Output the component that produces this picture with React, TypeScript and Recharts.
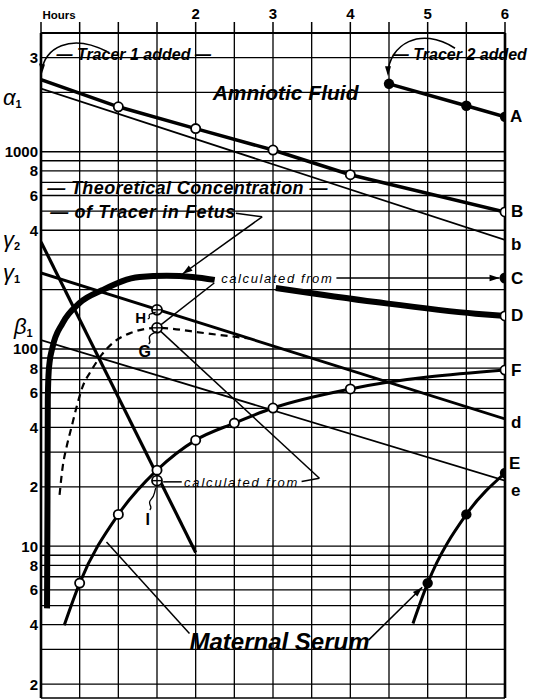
import React from "react";
import {
  ComposedChart,
  Line,
  Scatter,
  XAxis,
  YAxis,
  CartesianGrid,
  ReferenceLine,
  ReferenceDot,
} from "recharts";

// axes
const hourTicks = [0, 0.5, 1, 1.5, 2, 2.5, 3, 3.5, 4, 4.5, 5, 5.5, 6];
const hourLabels: Record<number, string> = { 2: "2", 3: "3", 4: "4", 5: "5", 6: "6" };
const concTicks = [
  2, 3, 4, 5, 6, 7, 8, 9, 10, 20, 30, 40, 50, 60, 70, 80, 90, 100, 200, 300, 400,
  500, 600, 700, 800, 900, 1000, 2000, 3000, 4000,
];
const concLabels: Record<number, string> = {
  3000: "3", 1000: "1000", 800: "8", 600: "6", 400: "4", 100: "100", 80: "8",
  60: "6", 40: "4", 20: "2", 10: "10", 8: "8", 6: "6", 4: "4", 2: "2",
};

// amniotic fluid, tracer 1 (B) and fitted line b
const amnioticBHours = [0, 1, 2, 3, 4, 6];
const amnioticB = [2320, 1690, 1310, 1020, 765, 495];
const lineBHours = [0, 6];
const lineB = [2090, 357];
// amniotic fluid, tracer 2 (A)
const amnioticAHours = [4.5, 5.5, 6];
const amnioticA = [2210, 1710, 1505];

// theoretical concentration of tracer in fetus (broken for the label)
const fetusEarlyHours = [0.078, 0.084, 0.088, 0.097, 0.11, 0.149, 0.278, 0.498, 0.796, 1.275, 1.625, 1.961, 2.246];
const fetusEarly = [4.84, 17.1, 55, 73.8, 84.9, 102, 135, 171, 199, 232, 235, 232, 224];
const fetusLateHours = [3.036, 4.33, 5.62, 6];
const fetusLate = [204, 173, 151, 147];

// straight components
const gamma1Hours = [0, 6];
const gamma1 = [243, 44.2];
const gamma2Hours = [0, 2];
const gamma2 = [349, 9.3];
const betaHours = [0, 6];
const beta = [111, 21.5];

// maternal serum
const serumFHours = [0.3, 0.5, 1, 1.5, 2, 2.5, 3, 4, 6];
const serumF = [3.97, 6.5, 14.5, 24.3, 34.5, 42.1, 50.2, 62.7, 78.2];
const serumEHours = [4.81, 5, 5.5, 6];
const serumE = [4.06, 6.5, 14.5, 23.5];

// dashed curve through G
const dashedHours = [0.24, 0.28, 0.33, 0.395, 0.46, 0.537, 0.654, 0.783, 0.926, 1.146, 1.5, 2.14, 2.53, 2.7];
const dashed = [18.2, 25.2, 31.8, 40.2, 50.8, 64.2, 78.2, 93.3, 107, 120, 128, 120, 115, 113];

// single points
const pointC = [{ t: 6, v: 229 }];
const pointsHGI = [
  { t: 1.5, v: 158 },
  { t: 1.5, v: 128 },
  { t: 1.5, v: 21.5 },
];

type P = { t: number; v: number };
const zip = (ts: number[], vs: number[]): P[] => ts.map((t, i) => ({ t, v: vs[i] }));

const FONT = "'Liberation Sans', Arial, sans-serif";
const INK = "#000";

function openDot(from: number) {
  return (p: any) => {
    if (p.index < from || p.cy == null) return <g key={`o${p.index}`} />;
    return (
      <circle key={`o${p.index}`} cx={p.cx} cy={p.cy} r={4.6} fill="#fff" stroke={INK} strokeWidth={1.8} />
    );
  };
}

function solidDot(from: number) {
  return (p: any) => {
    if (p.index < from || p.cy == null) return <g key={`s${p.index}`} />;
    return <circle key={`s${p.index}`} cx={p.cx} cy={p.cy} r={5.2} fill={INK} />;
  };
}

const crossDot = (p: any) => (
  <g>
    <circle cx={p.cx} cy={p.cy} r={5} fill="#fff" stroke={INK} strokeWidth={1.8} />
    <line x1={p.cx - 5} x2={p.cx + 5} y1={p.cy} y2={p.cy} stroke={INK} strokeWidth={1.4} />
    <line x1={p.cx} x2={p.cx} y1={p.cy - 5} y2={p.cy + 5} stroke={INK} strokeWidth={1.4} />
  </g>
);

const bigDot = (p: any) => <circle cx={p.cx} cy={p.cy} r={5.5} fill={INK} />;

function leaderShape(arrow: boolean) {
  return (p: any) => {
    const { x1, y1, x2, y2 } = p;
    let head = null;
    if (arrow) {
      const a = Math.atan2(y2 - y1, x2 - x1);
      const L = 10;
      const W = 3.2;
      const bx = x2 - L * Math.cos(a);
      const by = y2 - L * Math.sin(a);
      head = (
        <polygon
          points={`${x2},${y2} ${bx - W * Math.sin(a)},${by + W * Math.cos(a)} ${bx + W * Math.sin(a)},${by - W * Math.cos(a)}`}
          fill={INK}
        />
      );
    }
    return (
      <g>
        <line x1={x1} y1={y1} x2={x2} y2={y2} stroke={INK} strokeWidth={1.5} />
        {head}
      </g>
    );
  };
}

type Leader = { from: [number, number]; to: [number, number]; arrow?: boolean };
const leaders: Leader[] = [
  { from: [2.52, 488], to: [2.86, 468] },
  { from: [2.86, 468], to: [1.83, 240], arrow: true },
  { from: [2.24, 216], to: [1.5, 128] },
  { from: [3.82, 229], to: [5.93, 229], arrow: true },
  { from: [1.5, 128], to: [3.6, 22.1] },
  { from: [3.37, 21.3], to: [3.6, 22.1] },
  { from: [1.58, 21.2], to: [1.82, 21.2] },
  { from: [1.92, 3.61], to: [0.847, 10.5] },
  { from: [4.235, 3.34], to: [4.93, 6.2], arrow: true },
];

type Note = {
  t: number;
  v: number;
  text: string;
  size: number;
  dx?: number;
  italic?: boolean;
  bold?: boolean;
  anchor?: "start" | "middle" | "end";
  ls?: number;
  sub?: string;
  path?: string;
};

const notes: Note[] = [
  { t: 0.2, v: 3105, text: "— Tracer 1 added —", size: 16, italic: true, bold: true },
  { t: 4.55, v: 3105, text: "— Tracer 2 added", size: 16, italic: true, bold: true },
  { t: 2.22, v: 1993, text: "Amniotic Fluid", size: 21, italic: true, bold: true },
  { t: 0.08, v: 656, text: "— Theoretical Concentration —", size: 18, italic: true, bold: true, ls: 0.4 },
  { t: 0.12, v: 495, text: "— of Tracer in Fetus", size: 18, italic: true, bold: true, ls: 0.6 },
  { t: 2.33, v: 228, text: "calculated from", size: 13, italic: true, ls: 1.6 },
  { t: 1.85, v: 21.1, text: "calculated from", size: 13, italic: true, ls: 1.8 },
  { t: 1.92, v: 3.3, text: "Maternal Serum", size: 24, italic: true, bold: true },
  { t: 1.29, v: 143.6, text: "H", size: 15, bold: true, anchor: "middle", path: "M 7 1 c 4 -1 -1 -4 3 -5 s 3 -1 5 -2" },
  { t: 1.34, v: 96.6, text: "G", size: 16, bold: true, anchor: "middle", path: "M 4 -8 c 4 -2 -2 -6 2 -9 s 5 -2 6 -4" },
  { t: 1.38, v: 13.6, text: "I", size: 16, bold: true, anchor: "middle", path: "M 2 -10 c 4 -3 -3 -6 1 -10 s 3 -5 5 -12" },
  // curve letters on the right edge
  { t: 6, v: 1505, text: "A", size: 17, bold: true, dx: 5 },
  { t: 6, v: 495, text: "B", size: 17, bold: true, dx: 6 },
  { t: 6, v: 337, text: "b", size: 17, bold: true, dx: 6 },
  { t: 6, v: 229, text: "C", size: 17, bold: true, dx: 6 },
  { t: 6, v: 147, text: "D", size: 17, bold: true, dx: 6 },
  { t: 6, v: 78.2, text: "F", size: 17, bold: true, dx: 6 },
  { t: 6, v: 42.6, text: "d", size: 17, bold: true, dx: 6 },
  { t: 6, v: 26.4, text: "E", size: 17, bold: true, dx: 4 },
  { t: 6, v: 19.2, text: "e", size: 17, bold: true, dx: 6 },
  // intercepts on the left edge
  { t: 0, v: 1879, text: "α", size: 22, italic: true, dx: -38, sub: "1" },
  { t: 0, v: 357, text: "γ", size: 22, italic: true, dx: -38, sub: "2" },
  { t: 0, v: 243, text: "γ", size: 22, italic: true, dx: -38, sub: "1" },
  { t: 0, v: 130, text: "β", size: 22, italic: true, dx: -27, sub: "1" },
];

const noteShape = (n: Note) => (p: any) => {
  const x = p.cx + (n.dx ?? 0);
  const y = p.cy;
  return (
    <g>
      <text
        x={x}
        y={y}
        dominantBaseline="central"
        textAnchor={n.anchor ?? "start"}
        fontFamily={FONT}
        fontSize={n.size}
        fontStyle={n.italic ? "italic" : "normal"}
        fontWeight={n.bold ? "bold" : "normal"}
        letterSpacing={n.ls ?? 0}
        fill={INK}
      >
        {n.text}
        {n.sub ? (
          <tspan fontSize={11} dy={6} fontStyle="normal" fontWeight="bold">
            {n.sub}
          </tspan>
        ) : null}
      </text>
      {n.path ? (
        <path d={n.path} transform={`translate(${x},${y})`} fill="none" stroke={INK} strokeWidth={1.3} />
      ) : null}
    </g>
  );
};

// arcs marking tracer additions, anchored at their arrow tip
const arc1 = (p: any) => (
  <g transform={`translate(${p.cx + 1},${p.cy})`}>
    <path d="M 0 0 C 2 -22 28 -38 65 -19" fill="none" stroke={INK} strokeWidth={1.6} />
    <polygon points="-3,-7 3,-6 0,3" fill={INK} />
  </g>
);
const arc2 = (p: any) => (
  <g transform={`translate(${p.cx - 1},${p.cy})`}>
    <path d="M 0 0 C 1 -28 32 -48 67 -25" fill="none" stroke={INK} strokeWidth={1.6} />
    <polygon points="-3,-7 3,-7 0,3" fill={INK} />
  </g>
);

const HourTick = (p: any) => {
  const v = p.payload?.value;
  if (v === 0.5) {
    return (
      <text x={p.x - 4} y={p.y - 3} textAnchor="end" fontFamily={FONT} fontWeight="bold" fontSize={11.5} fill={INK}>
        Hours
      </text>
    );
  }
  const label = hourLabels[v];
  if (!label) return <g />;
  return (
    <text x={p.x} y={p.y - 3} textAnchor="middle" fontFamily={FONT} fontWeight="bold" fontSize={15} fill={INK}>
      {label}
    </text>
  );
};

const ConcTick = (p: any) => {
  const label = concLabels[p.payload?.value];
  if (!label) return <g />;
  return (
    <text
      x={p.x}
      y={p.y}
      dominantBaseline="central"
      textAnchor="end"
      fontFamily={FONT}
      fontWeight="bold"
      fontSize={15}
      fill={INK}
    >
      {label}
    </text>
  );
};

export default function App() {
  return (
    <div style={{ position: "absolute", left: 0, top: 0, width: 552, height: 700, background: "#fff" }}>
      <ComposedChart width={552} height={700} margin={{ top: 0, right: 47, bottom: 2, left: 0 }}>
        <CartesianGrid stroke={INK} strokeWidth={1.3} />
        <XAxis
          dataKey="t"
          type="number"
          orientation="top"
          domain={[0, 6]}
          ticks={hourTicks}
          interval={0}
          height={33}
          tickSize={11}
          tickMargin={0}
          axisLine={{ stroke: INK, strokeWidth: 2 }}
          tickLine={{ stroke: INK, strokeWidth: 1.5 }}
          tick={HourTick}
          allowDataOverflow
        />
        <YAxis
          type="number"
          scale="log"
          domain={[1.7, 4000]}
          ticks={concTicks}
          interval={0}
          width={41}
          tickSize={0}
          tickMargin={3}
          tickLine={false}
          axisLine={{ stroke: INK, strokeWidth: 2.6 }}
          tick={ConcTick}
          allowDataOverflow
        />
        <ReferenceLine x={6} stroke={INK} strokeWidth={2.6} />

        {leaders.map((l, i) => (
          <ReferenceLine
            key={`l${i}`}
            segment={[
              { x: l.from[0], y: l.from[1] },
              { x: l.to[0], y: l.to[1] },
            ]}
            stroke={INK}
            ifOverflow="visible"
            shape={leaderShape(!!l.arrow)}
          />
        ))}

        <Line data={zip(lineBHours, lineB)} dataKey="v" type="linear" stroke={INK} strokeWidth={1.8} dot={false} isAnimationActive={false} />
        <Line data={zip(betaHours, beta)} dataKey="v" type="linear" stroke={INK} strokeWidth={1.8} dot={false} isAnimationActive={false} />
        <Line data={zip(gamma1Hours, gamma1)} dataKey="v" type="linear" stroke={INK} strokeWidth={2.8} dot={false} isAnimationActive={false} />
        <Line data={zip(gamma2Hours, gamma2)} dataKey="v" type="linear" stroke={INK} strokeWidth={3.2} dot={false} isAnimationActive={false} />
        <Line
          data={zip(dashedHours, dashed)}
          dataKey="v"
          type="monotone"
          stroke={INK}
          strokeWidth={2.2}
          strokeDasharray="7 5"
          dot={false}
          isAnimationActive={false}
        />
        <Line data={zip(fetusEarlyHours, fetusEarly)} dataKey="v" type="monotone" stroke={INK} strokeWidth={6} dot={false} isAnimationActive={false} />
        <Line
          data={zip(fetusLateHours, fetusLate)}
          dataKey="v"
          type="monotone"
          stroke={INK}
          strokeWidth={6}
          dot={openDot(fetusLate.length - 1)}
          isAnimationActive={false}
        />
        <Line
          data={zip(amnioticBHours, amnioticB)}
          dataKey="v"
          type="linear"
          stroke={INK}
          strokeWidth={3.5}
          dot={openDot(1)}
          isAnimationActive={false}
        />
        <Line
          data={zip(amnioticAHours, amnioticA)}
          dataKey="v"
          type="linear"
          stroke={INK}
          strokeWidth={3.5}
          dot={solidDot(0)}
          isAnimationActive={false}
        />
        <Line
          data={zip(serumFHours, serumF)}
          dataKey="v"
          type="monotone"
          stroke={INK}
          strokeWidth={3}
          dot={openDot(1)}
          isAnimationActive={false}
        />
        <Line
          data={zip(serumEHours, serumE)}
          dataKey="v"
          type="monotone"
          stroke={INK}
          strokeWidth={3}
          dot={solidDot(1)}
          isAnimationActive={false}
        />
        <Scatter data={pointC} dataKey="v" shape={bigDot} isAnimationActive={false} />
        <Scatter data={pointsHGI} dataKey="v" shape={crossDot} isAnimationActive={false} />

        <ReferenceDot x={0} y={2580} r={0} ifOverflow="visible" shape={arc1} />
        <ReferenceDot x={4.5} y={2500} r={0} ifOverflow="visible" shape={arc2} />
        {notes.map((n, i) => (
          <ReferenceDot key={`n${i}`} x={n.t} y={n.v} r={0} ifOverflow="visible" shape={noteShape(n)} />
        ))}
      </ComposedChart>
    </div>
  );
}
